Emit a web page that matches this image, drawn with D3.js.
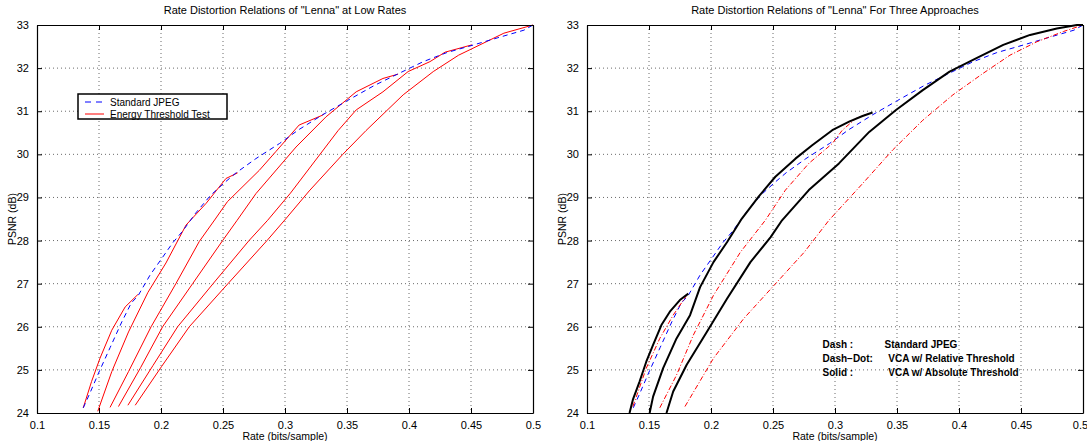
<!DOCTYPE html>
<html>
<head>
<meta charset="utf-8">
<script src="https://cdn.jsdelivr.net/npm/d3@7"></script>
<style>
  body { margin: 0; background: #fff; }
  text { font-family: "Liberation Sans", Arial, sans-serif; fill: #000; }
  .grid line { stroke: #444; stroke-dasharray: 1,3; stroke-width: 0.8; }
</style>
</head>
<body>
<svg id="chart" width="1087" height="441"></svg>
<script>
// axis ticks
let rateTicks = [0.1, 0.15, 0.2, 0.25, 0.3, 0.35, 0.4, 0.45, 0.5];
let psnrTicks = [24, 25, 26, 27, 28, 29, 30, 31, 32, 33];

// Standard JPEG (blue dashed), same curve in both panels
let jpeg = [[0.1373,24.12],[0.1425,24.45],[0.150,24.95],[0.159,25.52],[0.1685,26.12],[0.176,26.55],
  [0.1815,26.72],[0.1912,27.2],[0.2005,27.58],[0.2095,27.95],[0.2175,28.22],[0.2275,28.62],[0.24,29.05],
  [0.2515,29.35],[0.2605,29.57],[0.2765,29.9],[0.2955,30.25],[0.311,30.57],[0.3305,30.92],[0.3505,31.25],
  [0.3722,31.6],[0.3935,31.9],[0.4115,32.15],[0.4305,32.36],[0.45,32.52],[0.4711,32.7],[0.4927,32.88],[0.5,33.0]];

// Energy Threshold Test (left panel, red solid)
let energy1 = [[0.1373,24.12],[0.144,24.73],[0.1508,25.27],[0.1603,25.92],[0.1711,26.46],[0.1814,26.75]];
let energy2 = [[0.149,24.04],[0.1603,24.96],[0.1738,25.88],[0.1895,26.8],[0.204,27.48],[0.2202,28.36],
  [0.2363,28.86],[0.2524,29.44],[0.2618,29.57]];
let energy3 = [[0.1589,24.13],[0.1738,24.96],[0.192,26.0],[0.212,27.0],[0.2309,27.98],[0.2438,28.5],
  [0.2535,28.9],[0.2793,29.63],[0.2925,30.06],[0.3114,30.68],[0.3304,30.91],[0.3317,30.95]];
let energy4 = [[0.1657,24.15],[0.1835,25.05],[0.2013,26.0],[0.2255,27.0],[0.2497,28.0],[0.2614,28.47],
  [0.2766,29.09],[0.3089,30.17],[0.3331,30.87],[0.3574,31.45],[0.379,31.76],[0.3912,31.86]];
let energy5 = [[0.1733,24.18],[0.1935,25.1],[0.2134,26.0],[0.242,27.0],[0.271,28.0],[0.286,28.47],
  [0.3044,29.1],[0.3428,30.55],[0.3574,31.03],[0.379,31.45],[0.3993,31.92],[0.4169,32.15],[0.4291,32.37],
  [0.4508,32.54]];
let energy6 = [[0.1792,24.18],[0.2005,25.08],[0.2228,26.0],[0.254,27.0],[0.2855,28.0],[0.3005,28.5],
  [0.3195,29.15],[0.3466,30.0],[0.3653,30.55],[0.3953,31.38],[0.4196,31.92],[0.44,32.3],[0.4508,32.45],
  [0.4765,32.81],[0.5,33]];

// VCA w/ Relative Threshold (right panel, red dash-dot)
let relative1 = [[0.137,24.15],[0.1478,25.04],[0.1587,25.73],[0.1695,26.27],[0.1804,26.73]];
let relative2 = [[0.1587,24.12],[0.1722,24.88],[0.1858,25.81],[0.202,26.73],[0.2237,27.73],[0.2438,28.47],
  [0.26,29.17],[0.2789,29.79],[0.2978,30.25],[0.3059,30.56],[0.3168,30.83],[0.3276,30.95]];
let relative3 = [[0.179,24.15],[0.202,25.27],[0.2264,26.19],[0.2508,26.96],[0.2752,27.73],[0.2951,28.47],
  [0.3222,29.32],[0.3465,30.1],[0.3708,30.79],[0.3951,31.38],[0.4195,31.88],[0.4411,32.3],[0.4627,32.61],
  [0.4843,32.85],[0.5,33]];

// VCA w/ Absolute Threshold (right panel, black solid)
let absolute1 = [[0.1343,24.0],[0.137,24.31],[0.1424,24.73],[0.1478,25.19],[0.1533,25.58],[0.16,26.04],
  [0.1668,26.35],[0.1749,26.62],[0.1817,26.77]];
let absolute2 = [[0.1505,24.0],[0.1533,24.38],[0.1614,25.04],[0.1722,25.73],[0.1831,26.27],[0.1912,26.92],
  [0.202,27.5],[0.2129,27.96],[0.2249,28.51],[0.2384,29.02],[0.2519,29.48],[0.2681,29.9],[0.2816,30.21],
  [0.2978,30.56],[0.3114,30.76],[0.3222,30.89],[0.3303,30.97]];
let absolute3 = [[0.1641,24.0],[0.1695,24.5],[0.1804,25.12],[0.1966,25.88],[0.2129,26.65],[0.2318,27.5],
  [0.2481,28.08],[0.2573,28.47],[0.2789,29.17],[0.3032,29.79],[0.3276,30.52],[0.3492,31.03],[0.3708,31.49],
  [0.3924,31.92],[0.4141,32.23],[0.4357,32.54],[0.4573,32.77],[0.4789,32.92],[0.4951,33.0],[0.5,33.0]];

let leftTitle = 'Rate Distortion Relations of "Lenna" at Low Rates';
let rightTitle = 'Rate Distortion Relations of "Lenna"  For Three Approaches';
let legendNames = ["Standard JPEG", "Energy Threshold Test"];
let noteLabels = ["Dash :", "Dash\u2212Dot:", "Solid :"];
let noteTexts = ["Standard JPEG", "VCA w/ Relative Threshold", "VCA w/ Absolute Threshold"];

let styles = {
  jpeg:     {color: "#0000ff", width: 1, dash: "5,4"},
  energy:   {color: "#ff0000", width: 1, dash: null},
  relative: {color: "#ff0000", width: 1, dash: "5,2,1,2"},
  absolute: {color: "#000000", width: 2, dash: null}
};

let svg = d3.select("#chart");

function drawPanel(x0, title, series) {
  let w = 496, h = 388, top = 25;
  let x = d3.scaleLinear().domain([0.1, 0.5]).range([x0, x0 + w]);
  let y = d3.scaleLinear().domain([24, 33]).range([top + h, top]);
  let g = svg.append("g");

  // dotted grid
  let grid = g.append("g").classed("grid", true);
  grid.selectAll(".gx").data(rateTicks.slice(1, -1)).enter().append("line")
      .attr("x1", d => x(d)).attr("x2", d => x(d))
      .attr("y1", top).attr("y2", top + h);
  grid.selectAll(".gy").data(psnrTicks.slice(1, -1)).enter().append("line")
      .attr("y1", d => y(d)).attr("y2", d => y(d))
      .attr("x1", x0).attr("x2", x0 + w);

  // curves
  let line = d3.line().x(d => x(d[0])).y(d => y(d[1]));
  series.forEach(s => {
    let st = styles[s.style];
    g.append("path")
        .attr("d", line(s.data))
        .attr("fill", "none")
        .attr("stroke", st.color)
        .attr("stroke-width", st.width)
        .attr("stroke-linejoin", "round")
        .attr("stroke-dasharray", st.dash);
  });

  // axes with inward ticks on all sides
  let fmt = d3.format("");
  g.append("g").classed("xaxis", true).attr("transform", `translate(0,${top + h})`)
      .call(d3.axisBottom(x).tickValues(rateTicks).tickSizeInner(-5).tickSizeOuter(0).tickPadding(8).tickFormat(fmt));
  g.append("g").attr("transform", `translate(0,${top})`)
      .call(d3.axisTop(x).tickValues(rateTicks).tickSizeInner(-5).tickSizeOuter(0).tickFormat(""));
  g.append("g").attr("transform", `translate(${x0},0)`)
      .call(d3.axisLeft(y).tickValues(psnrTicks).tickSizeInner(-5).tickSizeOuter(0).tickPadding(8).tickFormat(fmt));
  g.append("g").attr("transform", `translate(${x0 + w},0)`)
      .call(d3.axisRight(y).tickValues(psnrTicks).tickSizeInner(-5).tickSizeOuter(0).tickFormat(""));
  g.selectAll(".domain").attr("stroke", "#000").attr("stroke-width", 1.2);
  g.selectAll(".tick line").attr("stroke", "#000");
  g.selectAll(".tick text").attr("font-size", 11).attr("font-family", '"Liberation Sans", Arial, sans-serif');

  // titles
  g.append("text").attr("x", x0 + w / 2).attr("y", 14)
      .attr("text-anchor", "middle").attr("font-size", 11).text(title);
  g.append("text").attr("x", x0 + w / 2).attr("y", 440)
      .attr("text-anchor", "middle").attr("font-size", 10.5).text("Rate (bits/sample)");
  g.append("text").attr("transform", `translate(${x0 - 21},${top + h / 2}) rotate(-90)`)
      .attr("text-anchor", "middle").attr("font-size", 10.5).text("PSNR (dB)");

  return {x: x, y: y, g: g};
}

let left = drawPanel(37, leftTitle, [
  {data: energy1, style: "energy"}, {data: energy2, style: "energy"},
  {data: energy3, style: "energy"}, {data: energy4, style: "energy"},
  {data: energy5, style: "energy"}, {data: energy6, style: "energy"},
  {data: jpeg, style: "jpeg"}
]);

let right = drawPanel(587, rightTitle, [
  {data: jpeg, style: "jpeg"},
  {data: relative1, style: "relative"}, {data: relative2, style: "relative"},
  {data: relative3, style: "relative"},
  {data: absolute1, style: "absolute"}, {data: absolute2, style: "absolute"},
  {data: absolute3, style: "absolute"}
]);

// last tick label sits at the window edge, nudge it inside
right.g.select(".xaxis").selectAll(".tick text").filter(d => d === 0.5).attr("dx", -3);

// legend box on the left panel
let leg = svg.append("g").attr("transform", "translate(78,94)");
leg.append("rect").attr("width", 149).attr("height", 25)
    .attr("fill", "#fff").attr("stroke", "#000").attr("stroke-width", 1.5);
["jpeg", "energy"].forEach((k, i) => {
  let st = styles[k];
  leg.append("line").attr("x1", 7).attr("x2", 26)
      .attr("y1", 8 + i * 12).attr("y2", 8 + i * 12)
      .attr("stroke", st.color).attr("stroke-width", st.width)
      .attr("stroke-dasharray", st.dash ? "6,5" : null);
  leg.append("text").attr("x", 32).attr("y", 12 + i * 12)
      .attr("font-size", 10).text(legendNames[i]);
});

// note block on the right panel
noteLabels.forEach((lab, i) => {
  let yy = right.y(25.55) + i * 13.8 + 2;
  right.g.append("text").attr("x", right.x(0.29)).attr("y", yy)
      .attr("font-size", 10).attr("font-weight", "bold").text(lab);
  right.g.append("text").attr("x", right.x(i == 0 ? 0.34 : 0.343)).attr("y", yy)
      .attr("font-size", 10).attr("font-weight", "bold").text(noteTexts[i]);
});
</script>
</body>
</html>
